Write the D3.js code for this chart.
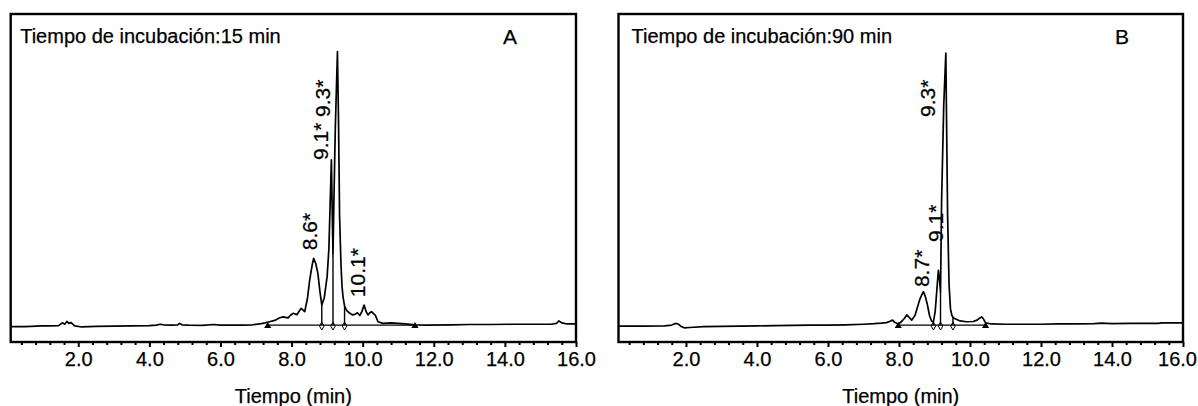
<!DOCTYPE html>
<html>
<head>
<meta charset="utf-8">
<script src="https://cdn.jsdelivr.net/npm/d3@7"></script>
<style>
  body { margin: 0; background: #fff; }
  text { font-family: "Liberation Sans", Arial, sans-serif; fill: #000; stroke: #000; stroke-width: 0.25px; }
</style>
</head>
<body>
<svg id="chart" width="1198" height="406"></svg>
<script>
// Chromatogram A: incubation 15 min (retention time in min, detector signal in relative units)
const timeA = [0.1, 0.5, 0.99, 1.2, 1.45, 1.55, 1.62, 1.68, 1.74, 1.8, 1.9, 2.1, 2.5, 3.0, 3.5, 4.0, 4.2, 4.3, 4.4, 4.6,
  4.8, 4.85, 4.92, 5.1, 5.5, 5.8, 6.0, 6.3, 6.6, 6.9, 7.1, 7.25, 7.38, 7.55, 7.65, 7.76, 7.9, 7.97, 8.04, 8.15,
  8.22, 8.27, 8.37, 8.45, 8.51, 8.58, 8.62, 8.68, 8.74, 8.8, 8.85, 8.92, 9.0, 9.05, 9.08, 9.12, 9.145, 9.165, 9.19, 9.23,
  9.29, 9.32, 9.35, 9.39, 9.42, 9.45, 9.49, 9.54, 9.64, 9.72, 9.78, 9.85, 9.92, 9.98, 10.04, 10.1, 10.15, 10.2, 10.25, 10.32,
  10.36, 10.43, 10.57, 10.8, 11.0, 11.2, 11.47, 11.8, 12.5, 13.0, 13.6, 14.2, 14.8, 15.3, 15.45, 15.52, 15.6, 15.75, 16.0];
const signalA = [-0.6, -0.6, -0.3, -0.3, -0.2, 0.8, 0.3, 1.3, 0.6, 0.9, -0.3, -0.7, -0.5, -0.4, -0.3, -0.2, 0, 0.3, 0.1, 0,
  0.1, 0.6, 0.1, 0, -0.1, 0.2, 0, 0, 0, 0.1, 0.4, 0.8, 1.2, 1.8, 2.6, 3.0, 2.6, 3.6, 4.3, 3.8,
  5.2, 6.1, 4.9, 10, 16.5, 22, 24.4, 22.5, 18.9, 12, 7.3, 10, 17.7, 28, 42, 60.4, 40, 26, 45, 72,
  100, 75, 40, 22, 14, 10, 7, 5.5, 4.3, 3.7, 3.9, 4.5, 3.5, 5, 7.3, 4.8, 3.7, 4.5, 4.9, 4.0,
  3.5, 1.2, 0.6, 0.8, 0.6, 0.4, 0.1, 0, 0.1, 0.2, 0.2, 0.3, 0.3, 0.3, 0.6, 1.5, 0.8, 0.4, 0.4];
const limitsA = [7.33, 11.47];          // integration start / end
const dropsA = [8.85, 9.165, 9.49];      // peak separation points
const labelTextA = ["8.6*", "9.1*", "9.3*", "10.1*"];
const labelTimeA = [8.51, 8.82, 8.87, 9.86];
const labelLevelA = [27.4, 60.4, 76.1, 10.2];

// Chromatogram B: incubation 90 min
const timeB = [0.1, 0.8, 1.4, 1.6, 1.7, 1.78, 1.85, 1.95, 2.1, 2.5, 3.0, 3.5, 4.0, 4.5, 5.0, 5.5, 6.0, 6.5, 7.0, 7.3,
  7.5, 7.65, 7.75, 7.82, 7.88, 7.98, 8.05, 8.15, 8.22, 8.3, 8.36, 8.45, 8.52, 8.59, 8.64, 8.69, 8.74, 8.8, 8.86, 8.92,
  8.97, 9.02, 9.08, 9.11, 9.14, 9.17, 9.2, 9.26, 9.32, 9.34, 9.37, 9.41, 9.45, 9.49, 9.54, 9.6, 9.72, 9.9, 10.09, 10.2,
  10.28, 10.33, 10.38, 10.44, 10.6, 11.0, 11.5, 12.0, 12.5, 13.0, 13.5, 13.7, 14.0, 14.5, 15.0, 15.3, 15.4, 16.0];
const signalB = [-0.4, -0.4, -0.3, 0, 0.6, 0.4, -0.4, -1.0, -0.9, -0.6, -0.5, -0.4, -0.3, -0.2, -0.1, 0, 0, 0.1, 0.3, 0.5,
  0.7, 0.9, 1.4, 1.8, 1.0, 0.4, 1.0, 2.4, 3.7, 2.6, 1.8, 3.5, 6.5, 9.5, 11, 12.2, 10.5, 7.5, 3.5, 1.4,
  1.2, 5, 15, 20, 17, 12, 45, 80, 99.5, 75, 40, 15, 6, 3.5, 2.6, 2.2, 1.5, 1.2, 1.3, 1.8,
  2.6, 3.0, 2.2, 0.8, 0.4, 0.3, 0.3, 0.3, 0.4, 0.4, 0.5, 0.7, 0.5, 0.6, 0.6, 0.6, 0.8, 0.8];
const limitsB = [7.98, 10.44];
const dropsB = [8.97, 9.17, 9.52];
const labelTextB = ["8.7*", "9.1*", "9.3*"];
const labelTimeB = [8.62, 9.02, 8.80];
const labelLevelB = [13.9, 30.4, 76.1];

// Axis ticks (min)
const majorTicks = [2, 4, 6, 8, 10, 12, 14, 16];
const minorTicks = d3.range(0.4, 16.01, 0.4).filter(v => Math.abs(v / 2 - Math.round(v / 2)) > 1e-6);

const panels = [
  { left: 10.7, right: 576, title: "Tiempo de incubación:15 min", tag: "A", tagX: 510, titleDx: 9.5,
    time: timeA, signal: signalA, limits: limitsA, drops: dropsA,
    labelText: labelTextA, labelTime: labelTimeA, labelLevel: labelLevelA },
  { left: 618.5, right: 1183, title: "Tiempo de incubación:90 min", tag: "B", tagX: 1122, titleDx: 13,
    time: timeB, signal: signalB, limits: limitsB, drops: dropsB,
    labelText: labelTextB, labelTime: labelTimeB, labelLevel: labelLevelB }
];

const plotTop = 14, plotBottom = 342, width = 1198;
const svg = d3.select("#chart");

panels.forEach(p => {
  const g = svg.append("g");
  const x = d3.scaleLinear().domain([0.1, 16]).range([p.left, p.right]);
  const y = d3.scaleLinear().domain([-6.2, 113.8]).range([plotBottom, plotTop]);
  const pts = p.time.map((t, i) => [t, p.signal[i]]);
  const valueAt = t => {
    const i = d3.bisector(d => d[0]).left(pts, t);
    if (i <= 0) return pts[0][1];
    if (i >= pts.length) return pts[pts.length - 1][1];
    const a = pts[i - 1], b = pts[i];
    return a[1] + (b[1] - a[1]) * (t - a[0]) / (b[0] - a[0]);
  };

  // minor and major ticks along the bottom edge
  g.append("g").attr("transform", `translate(0,${plotBottom})`)
    .call(d3.axisBottom(x).tickValues(minorTicks).tickSize(3).tickFormat(""))
    .call(a => a.select(".domain").remove())
    .call(a => a.selectAll("line").attr("stroke-width", 2));
  const axis = g.append("g").attr("transform", `translate(0,${plotBottom})`)
    .call(d3.axisBottom(x).tickValues(majorTicks).tickSize(5).tickPadding(5).tickFormat(d3.format(".1f")))
    .call(a => a.select(".domain").remove())
    .call(a => a.selectAll("line").attr("stroke-width", 2))
    .call(a => a.selectAll("text").attr("font-size", 20).attr("font-family", null));
  // keep the last tick label inside the page
  axis.selectAll("text").each(function () {
    const b = this.getBBox();
    const tick = this.parentNode.getAttribute("transform").match(/translate\(([-\d.]+)/);
    const tx = tick ? +tick[1] : 0;
    const over = tx + b.x + b.width - (width - 1);
    if (over > 0) d3.select(this).attr("x", -over);
  });

  // integration baseline and drop lines
  g.append("line")
    .attr("x1", x(p.limits[0])).attr("x2", x(p.limits[1]))
    .attr("y1", y(0)).attr("y2", y(0))
    .attr("stroke", "#000").attr("stroke-width", 1.2);
  g.selectAll(".drop").data(p.drops).join("line")
    .attr("x1", d => x(d)).attr("x2", d => x(d))
    .attr("y1", d => y(valueAt(d))).attr("y2", y(0))
    .attr("stroke", "#000").attr("stroke-width", 1.4);

  // signal trace
  g.append("path").datum(pts)
    .attr("fill", "none").attr("stroke", "#000").attr("stroke-width", 1.7)
    .attr("stroke-linejoin", "round")
    .attr("d", d3.line().x(d => x(d[0])).y(d => y(d[1])));

  // start/end and separation markers
  g.selectAll(".lim").data(p.limits).join("path")
    .attr("transform", d => `translate(${x(d)},${y(0) + 1})`)
    .attr("d", d3.symbol(d3.symbolTriangle, 22)).attr("fill", "#000");
  g.selectAll(".sep").data(p.drops).join("path")
    .attr("transform", d => `translate(${x(d)},${y(0) + 1})`)
    .attr("d", d3.symbol(d3.symbolDiamond, 18)).attr("fill", "none")
    .attr("stroke", "#000").attr("stroke-width", 1);

  // peak labels (rotated)
  p.labelText.forEach((txt, i) => {
    const px = x(p.labelTime[i]), py = y(p.labelLevel[i]);
    g.append("text").attr("transform", `translate(${px},${py}) rotate(-90)`)
      .attr("dy", "0.36em").attr("font-size", 21).text(txt);
  });

  // frame
  g.append("rect").attr("x", p.left).attr("y", plotTop)
    .attr("width", p.right - p.left).attr("height", plotBottom - plotTop)
    .attr("fill", "none").attr("stroke", "#000").attr("stroke-width", 2.4);

  // titles
  g.append("text").attr("x", p.left + p.titleDx).attr("y", 43)
    .attr("font-size", 20).text(p.title);
  g.append("text").attr("x", p.tagX).attr("y", 44).attr("text-anchor", "middle")
    .attr("font-size", 21).text(p.tag);
  g.append("text").attr("x", (p.left + p.right) / 2).attr("y", 403)
    .attr("text-anchor", "middle").attr("font-size", 20).text("Tiempo (min)");
});
</script>
</body>
</html>
